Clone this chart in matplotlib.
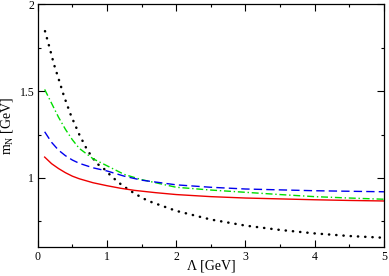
import matplotlib
matplotlib.use("Agg")
import matplotlib.pyplot as plt
from matplotlib.ticker import MultipleLocator

# Data
lam_red = [0.1, 0.2, 0.3, 0.4, 0.5, 0.6, 0.8, 1.0, 1.2, 1.4, 1.7, 2.0, 2.5, 3.0, 3.5, 4.0, 4.5, 5.0]
m_red = [1.12, 1.082, 1.054, 1.03, 1.01, 0.995, 0.972, 0.955, 0.94, 0.928, 0.915, 0.904, 0.892, 0.884, 0.879, 0.874, 0.870, 0.867]

lam_blue = [0.1, 0.2, 0.3, 0.4, 0.5, 0.6, 0.8, 1.0, 1.25, 1.5, 2.0, 2.5, 3.0, 3.5, 4.0, 4.5, 5.0]
m_blue = [1.266, 1.205, 1.16, 1.128, 1.103, 1.084, 1.058, 1.04, 1.01, 0.987, 0.96, 0.946, 0.936, 0.931, 0.926, 0.923, 0.92]

lam_green = [0.1, 0.2, 0.3, 0.4, 0.5, 0.6, 0.8, 1.0, 1.25, 1.5, 2.0, 2.5, 3.0, 3.5, 4.0, 4.5, 5.0]
m_green = [1.51, 1.43, 1.35, 1.28, 1.22, 1.17, 1.11, 1.07, 1.02, 0.99, 0.946, 0.93, 0.917, 0.904, 0.892, 0.884, 0.877]

lam_black = [0.105, 0.178, 0.235, 0.31, 0.38, 0.48, 0.6, 0.716, 0.85, 0.95, 1.07, 1.21, 1.36, 1.52, 1.646, 2.0, 2.5, 3.0, 3.5, 4.0, 4.5, 5.0]
m_black = [1.846, 1.74, 1.654, 1.56, 1.47, 1.36, 1.25, 1.16, 1.084, 1.055, 1.007, 0.96, 0.92, 0.882, 0.86, 0.81, 0.76, 0.725, 0.70, 0.68, 0.665, 0.655]

xlabel = "Λ [GeV]"
ylabel = "m$_N$ [GeV]"

plt.rcParams['font.family'] = ['Liberation Serif', 'DejaVu Serif']
plt.rcParams['mathtext.fontset'] = 'custom'
plt.rcParams['mathtext.rm'] = 'Liberation Serif'
plt.rcParams['mathtext.it'] = 'Liberation Serif'

fig = plt.figure(figsize=(3.89, 2.76), dpi=100)
ax = fig.add_axes([0.097, 0.104, 0.890, 0.880])

ax.plot(lam_black, m_black, color='black', lw=1.8, linestyle=(0, (0.1, 2.8)), dash_capstyle='round')
ax.plot(lam_green, m_green, color='#00dd00', lw=1.0, linestyle=(0, (5, 2, 1, 2)))
ax.plot(lam_blue, m_blue, color='#0000ee', lw=1.0, linestyle=(0, (6, 3)))
ax.plot(lam_red, m_red, color='#ee0000', lw=1.0)

ax.set_xlim(0, 5)
ax.set_ylim(0.6, 2)
ax.xaxis.set_minor_locator(MultipleLocator(0.5))
ax.yaxis.set_minor_locator(MultipleLocator(0.25))
ax.set_yticks([1, 1.5, 2])
ax.set_yticklabels(['1', '1.5', '2'])
ax.set_xticks([0, 1, 2, 3, 4, 5])
ax.set_xticklabels(['0', '1', '2', '3', '4', '5'])
ax.tick_params(which='both', direction='in', top=True, right=True, labelsize=8.5, width=0.8, pad=2.5)
ax.tick_params(which='major', length=5)
ax.tick_params(which='minor', length=2.5)
for s in ax.spines.values():
    s.set_linewidth(0.9)

ax.set_xlabel(xlabel, fontsize=10)
ax.xaxis.set_label_coords(0.5, -0.05)
ax.set_ylabel(ylabel, fontsize=10)
ax.yaxis.set_label_coords(-0.066, 0.5)

fig.savefig("out.png", dpi=100)
